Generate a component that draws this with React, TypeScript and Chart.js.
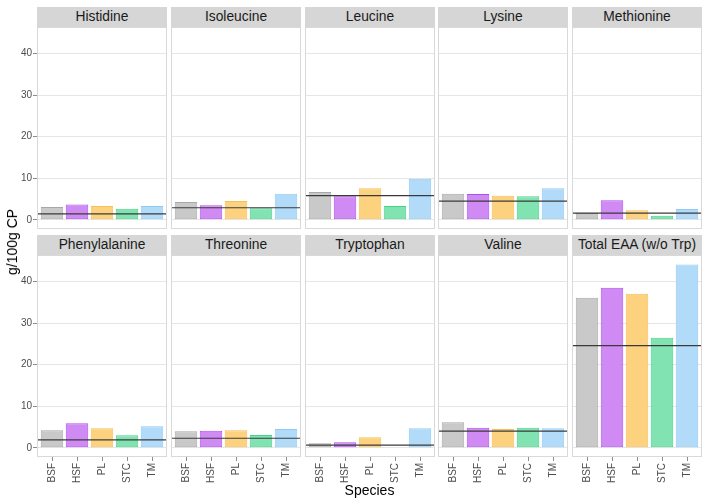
import React, { useEffect, useRef } from "react";
import { Chart, registerables } from "chart.js";

Chart.register(...registerables);

// ---- data ----
const species = ["BSF", "HSF", "PL", "STC", "TM"];
const panelTitles = [
  "Histidine",
  "Isoleucine",
  "Leucine",
  "Lysine",
  "Methionine",
  "Phenylalanine",
  "Threonine",
  "Tryptophan",
  "Valine",
  "Total EAA (w/o Trp)",
];
const histidine = [3.1, 3.7, 3.3, 2.65, 3.3];
const isoleucine = [4.3, 3.5, 4.5, 2.8, 6.3];
const leucine = [6.7, 5.7, 7.6, 3.3, 9.9];
const lysine = [6.3, 6.2, 5.8, 5.7, 7.6];
const methionine = [1.65, 4.7, 2.3, 0.95, 2.6];
const phenylalanine = [4.2, 5.9, 4.7, 3.0, 5.2];
const threonine = [4.0, 4.1, 4.2, 3.1, 4.55];
const tryptophan = [1.1, 1.35, 2.55, null, 4.7];
const valine = [6.15, 4.85, 4.5, 4.85, 4.7];
const totalEAA = [36.1, 38.5, 37.1, 26.5, 44.1];
const requirement = [1.45, 2.9, 5.8, 4.5, 1.6, 1.9, 2.3, 0.65, 4.0, 24.6];
const yTicks = [0, 10, 20, 30, 40];
const yTitle = "g/100g CP";
const xTitle = "Species";

const panelValues = [
  histidine,
  isoleucine,
  leucine,
  lysine,
  methionine,
  phenylalanine,
  threonine,
  tryptophan,
  valine,
  totalEAA,
];

// ---- styles ----
const fills = ["#c9c9c9", "#d08af3", "#fdd27f", "#82e3b2", "#b2dbfa"];
const borders = ["#a8a8a8", "#b04ef0", "#f7be55", "#45d487", "#8ecbf4"];
const FONT = '"Liberation Sans", Arial, sans-serif';
const panelLefts = [37, 171, 305, 438, 572];
const PANEL_W = 130;
const PANEL_H = 202;
const rows = [
  { stripTop: 7, panelTop: 27 },
  { stripTop: 235, panelTop: 255 },
];
const Y_AXIS_W = 37;
const X_AXIS_H = 46;

const decoPlugin = {
  id: "panelDeco",
  afterDatasetsDraw(chart: any, _args: any, opts: any) {
    const { ctx, chartArea } = chart;
    const y = chart.scales.y.getPixelForValue(opts.value);
    ctx.save();
    ctx.strokeStyle = "#3a3a3a";
    ctx.lineWidth = 1.2;
    ctx.beginPath();
    ctx.moveTo(chartArea.left, y);
    ctx.lineTo(chartArea.right, y);
    ctx.stroke();
    ctx.restore();
  },
  afterDraw(chart: any) {
    const { ctx, chartArea } = chart;
    ctx.save();
    ctx.strokeStyle = "#d9d9d9";
    ctx.lineWidth = 1;
    ctx.strokeRect(
      chartArea.left + 0.5,
      chartArea.top + 0.5,
      chartArea.right - chartArea.left - 1,
      chartArea.bottom - chartArea.top - 1
    );
    ctx.restore();
  },
};

function Panel({ index }: { index: number }) {
  const ref = useRef<HTMLCanvasElement>(null);
  const col = index % 5;
  const row = Math.floor(index / 5);
  const showY = col === 0;
  const showX = row === 1;
  const width = PANEL_W + (showY ? Y_AXIS_W : 0);
  const height = PANEL_H + (showX ? X_AXIS_H : 0);
  const left = panelLefts[col] - (showY ? Y_AXIS_W : 0);
  const top = rows[row].panelTop;

  useEffect(() => {
    if (!ref.current) return;
    const values = panelValues[index];
    const chart = new Chart(ref.current, {
      type: "bar",
      data: {
        datasets: [
          {
            data: values.map((v, i) => ({ x: i + 1, y: v })) as any,
            backgroundColor: fills,
            borderColor: borders,
            borderWidth: 1,
            borderSkipped: false,
            barPercentage: 0.9,
            categoryPercentage: 1,
          },
        ],
      },
      options: {
        animation: false,
        responsive: false,
        maintainAspectRatio: false,
        layout: { padding: 0 },
        plugins: {
          legend: { display: false },
          tooltip: { enabled: false },
          panelDeco: { value: requirement[index] },
        } as any,
        scales: {
          x: {
            type: "linear",
            display: showX,
            offset: false,
            min: 0.4,
            max: 5.6,
            afterBuildTicks: (s: any) => {
              s.ticks = species.map((_, i) => ({ value: i + 1 }));
            },
            afterFit: (s: any) => {
              s.height = showX ? X_AXIS_H : 0;
              s.paddingLeft = 0;
              s.paddingRight = 0;
              s.paddingTop = 0;
              s.paddingBottom = 0;
            },
            ticks: {
              autoSkip: false,
              minRotation: 90,
              maxRotation: 90,
              padding: 2,
              color: "#4d4d4d",
              font: { family: FONT, size: 10 },
              callback: (v: any) => species[Math.round(v) - 1] ?? "",
            },
            grid: {
              display: true,
              offset: false,
              drawOnChartArea: false,
              drawTicks: true,
              tickLength: 4,
              tickColor: "#8c8c8c",
            },
            border: { display: false },
          },
          y: {
            type: "linear",
            min: -2.21,
            max: 46.41,
            afterBuildTicks: (s: any) => {
              s.ticks = yTicks.map((v) => ({ value: v }));
            },
            afterFit: (s: any) => {
              s.width = showY ? Y_AXIS_W : 0;
              s.paddingLeft = 0;
              s.paddingRight = 0;
              s.paddingTop = 0;
              s.paddingBottom = 0;
            },
            ticks: {
              display: showY,
              padding: 1,
              color: "#4d4d4d",
              font: { family: FONT, size: 10 },
            },
            grid: {
              color: "#e6e6e6",
              lineWidth: 1,
              drawTicks: showY,
              tickLength: 4,
              tickColor: "#8c8c8c",
            },
            border: { display: false },
          },
        },
      } as any,
      plugins: [decoPlugin],
    });
    return () => chart.destroy();
  }, [index]);

  return (
    <canvas
      ref={ref}
      width={width}
      height={height}
      style={{ position: "absolute", left, top, width, height }}
    />
  );
}

export default function App() {
  return (
    <div
      style={{
        position: "fixed",
        left: 0,
        top: 0,
        width: 708,
        height: 503,
        background: "#ffffff",
        fontFamily: FONT,
        overflow: "hidden",
      }}
    >
      {panelTitles.map((t, i) => {
        const col = i % 5;
        const row = Math.floor(i / 5);
        return (
          <div
            key={"s" + i}
            style={{
              position: "absolute",
              left: panelLefts[col],
              top: rows[row].stripTop,
              width: PANEL_W,
              height: 20,
              lineHeight: "20px",
              background: "#d6d6d6",
              color: "#1a1a1a",
              fontSize: 13.8,
              textAlign: "center",
              whiteSpace: "nowrap",
            }}
          >
            {t}
          </div>
        );
      })}
      {panelTitles.map((_, i) => (
        <Panel key={"p" + i} index={i} />
      ))}
      <div
        style={{
          position: "absolute",
          left: 12,
          top: 242,
          transform: "translate(-50%, -50%) rotate(-90deg)",
          fontSize: 14,
          color: "#000",
          whiteSpace: "nowrap",
        }}
      >
        {yTitle}
      </div>
      <div
        style={{
          position: "absolute",
          left: 369.5,
          top: 490,
          transform: "translate(-50%, -50%)",
          fontSize: 14,
          color: "#000",
          whiteSpace: "nowrap",
        }}
      >
        {xTitle}
      </div>
    </div>
  );
}
